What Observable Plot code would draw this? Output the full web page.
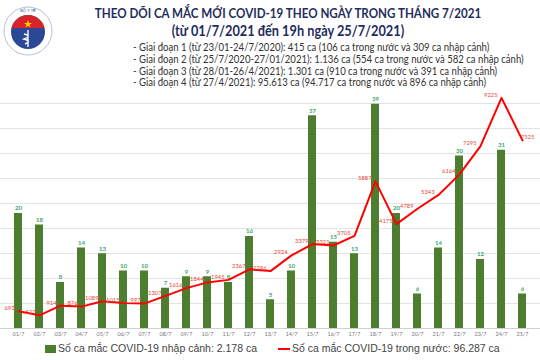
<!DOCTYPE html>
<html><head><meta charset="utf-8">
<script src="https://cdn.jsdelivr.net/npm/d3@7"></script>
<script src="https://cdn.jsdelivr.net/npm/@observablehq/plot@0.6"></script>
<style>
body{margin:0;background:#fff;width:540px;height:360px;overflow:hidden;font-family:Lato,"Open Sans",sans-serif;position:relative}
#logo{position:absolute;left:3px;top:5px}
.title{position:absolute;left:0;width:576px;text-align:center;font-weight:bold;color:#1f2d5c;font-family:Lato,sans-serif;white-space:nowrap;transform-origin:288px 50%}
#t1{top:5px;font-size:13.5px;transform:scaleX(0.86)}
#t2{top:22px;font-size:14.5px;transform:scaleX(0.88)}
#stages{position:absolute;left:133px;top:42px;font-size:10.5px;line-height:11.8px;color:#333;white-space:nowrap;transform:scaleX(0.91);transform-origin:0 0}
#chart{position:absolute;left:0;top:92px}
#legend{position:absolute;left:0;top:342px;width:540px;font-family:"Liberation Sans",Arial,sans-serif;font-size:10.5px;color:#444}
.li{position:absolute;top:0;white-space:nowrap}
.sw{display:inline-block;vertical-align:middle}
</style></head>
<body>
<svg id="logo" width="50" height="52" viewBox="0 0 50 52">
  <circle cx="25" cy="26" r="24" fill="#fff" stroke="#b8c0d8" stroke-width="1"/>
  <circle cx="25" cy="27" r="17" fill="#2b4796"/>
  <path d="M8.5 23 A17 17 0 0 1 41.5 23 Z" fill="#d8232a"/>
  <text x="25" y="7" font-size="4" text-anchor="middle" fill="#2b4796" font-family="Liberation Sans">BỘ Y TẾ</text>
  <path d="M25 25 L25 42 M21 29 Q29 31 21 34 Q29 36 22 39" stroke="#fff" stroke-width="1.4" fill="none"/>
  <polygon points="25,15 26,18 29,18 26.5,19.8 27.5,22.5 25,20.8 22.5,22.5 23.5,19.8 21,18 24,18" fill="#ffd500"/>
</svg>
<div class="title" id="t1"></div>
<div class="title" id="t2"></div>
<div id="stages"></div>
<div id="chart"></div>
<div id="legend"></div>
<script>
const titleText = "THEO DÕI CA MẮC MỚI COVID-19 THEO NGÀY TRONG THÁNG 7/2021";
const subtitleText = "(từ 01/7/2021 đến 19h ngày 25/7/2021)";
const stageLines = [
  "- Giai đoạn 1 (từ 23/01-24/7/2020): 415 ca (106 ca trong nước và 309 ca nhập cảnh)",
  "- Giai đoạn 2 (từ 25/7/2020-27/01/2021): 1.136 ca (554 ca trong nước và 582 ca nhập cảnh)",
  "- Giai đoạn 3 (từ 28/01-26/4/2021): 1.301 ca (910 ca trong nước và 391 ca nhập cảnh)",
  "- Giai đoạn 4 (từ 27/4/2021): 95.613 ca (94.717 ca trong nước và 896 ca nhập cảnh)"
];
const days = ["01/7","02/7","03/7","04/7","05/7","06/7","07/7","08/7","09/7","10/7","11/7","12/7","13/7","14/7","15/7","16/7","17/7","18/7","19/7","20/7","21/7","22/7","23/7","24/7","25/7"];
const imported = [20,18,8,14,13,10,10,7,9,9,8,16,5,10,37,15,13,39,20,6,14,30,12,31,6];
const domestic = [693,527,914,876,1089,1015,997,1307,1616,1844,1945,2367,2296,2924,3379,3321,3705,5887,4175,4789,5343,6164,7295,9225,7525];
const legendImported = "Số ca mắc COVID-19 nhập cảnh: 2.178 ca";
const legendDomestic = "Số ca mắc COVID-19 trong nước: 96.287 ca";

document.getElementById("t1").textContent = titleText;
document.getElementById("t2").textContent = subtitleText;
document.getElementById("stages").innerHTML = stageLines.map(s => `<div>${s}</div>`).join("");
document.getElementById("legend").innerHTML =
  `<div class="li" style="left:45px"><span class="sw" style="width:11px;height:8px;background:#4d7d2e;margin-right:2px"></span>${legendImported}</div>` +
  `<div class="li" style="left:278px"><span class="sw" style="width:12px;height:2px;background:#ff0000;margin-right:2px"></span>${legendDomestic}</div>`;

// secondary axis: bar units mapped onto the line scale
const barAxisMax = 39.13, lineAxisMax = 9000;
const ratio = lineAxisMax / barAxisMax;
const data = days.map((d, i) => ({day: d, imported: imported[i], domestic: domestic[i]}));
const last = data.length - 1;

const chart = Plot.plot({
  width: 540, height: 250,
  marginLeft: 0, marginRight: 0, marginTop: 11, marginBottom: 14,
  style: {fontFamily: "Lato, sans-serif", background: "transparent"},
  x: {domain: days, paddingInner: 0.6, paddingOuter: 0.6, label: null},
  y: {domain: [0, lineAxisMax], axis: null},
  marks: [
    Plot.gridY({interval: 1000, stroke: "#e3e3e3", strokeOpacity: 1}),
    Plot.ruleY([0], {stroke: "#d0d0d0"}),
    Plot.barY(data, {x: "day", y: d => d.imported * ratio, fill: "#4d7d2e"}),
    Plot.text(data, {x: "day", y: d => d.imported * ratio, text: d => String(d.imported), dy: -5, fill: "#3aa86c", fontSize: 6, fontWeight: "bold"}),
    Plot.lineY(data, {x: "day", y: "domestic", stroke: "#ff0000", strokeWidth: 2}),
    Plot.text(data.filter((d, i) => i < last), {x: "day", y: "domestic", text: d => String(d.domestic), textAnchor: "end", dx: -4, dy: -3, fill: "#e8453c", fontSize: 5.8}),
    Plot.text(data.filter((d, i) => i === last), {x: "day", y: "domestic", text: d => String(d.domestic), textAnchor: "end", dx: 12, dy: -3, fill: "#e8453c", fontSize: 5.8}),
    Plot.axisX({tickSize: 0, tickPadding: 4, fontSize: 5.5, fill: "#777", label: null})
  ]
});
document.getElementById("chart").appendChild(chart);
</script>
</body></html>
